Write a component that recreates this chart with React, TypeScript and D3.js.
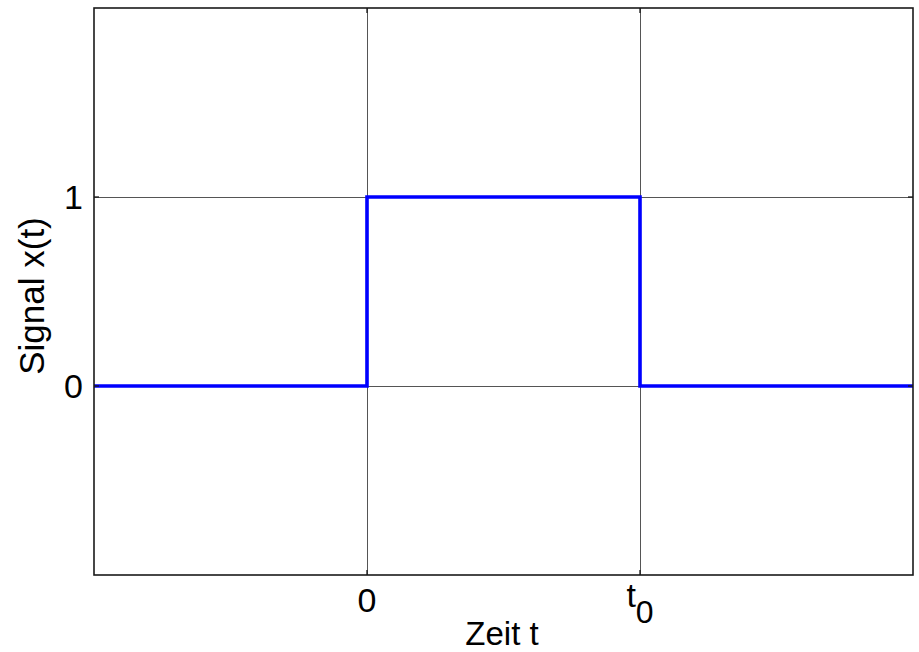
import React, { useEffect, useRef } from 'react';
import * as d3 from 'd3';

// step signal: rectangle pulse from 0 to t0
const signalT = [-1, 0, 0, 1, 1, 2];
const signalX = [0, 0, 1, 1, 0, 0];
const xTicks = [0, 1];
const xTickLabels = ['0', 't0'];
const yTicks = [0, 1];
const yTickLabels = ['0', '1'];

const W = 919;
const H = 652;

const App = () => {
  const ref = useRef<HTMLDivElement>(null);

  useEffect(() => {
    d3.select(ref.current).selectAll('*').remove();

    const margin = { left: 94, right: 6, top: 8, bottom: 77 };
    const font = 'Arial, "Liberation Sans", Helvetica, sans-serif';

    const svg = d3
      .select(ref.current)
      .append('svg')
      .attr('width', W)
      .attr('height', H)
      .style('position', 'absolute')
      .style('left', 0)
      .style('top', 0)
      .style('background', '#fff');

    const x = d3.scaleLinear().domain([-1, 2]).range([margin.left, W - margin.right]);
    const y = d3.scaleLinear().domain([-1, 2]).range([H - margin.bottom, margin.top]);

    const [x0, x1] = x.range();
    const [y0, y1] = y.range();

    // grid
    const grid = svg.append('g').attr('stroke', '#555').attr('stroke-width', 1).attr('shape-rendering', 'crispEdges');
    xTicks.forEach((t) => {
      grid.append('line').attr('x1', x(t)).attr('x2', x(t)).attr('y1', y1).attr('y2', y0);
    });
    yTicks.forEach((t) => {
      grid.append('line').attr('x1', x0).attr('x2', x1).attr('y1', y(t)).attr('y2', y(t));
    });

    // signal
    const line = d3
      .line<number>()
      .x((d, i) => x(signalT[i]))
      .y((d) => y(d));

    svg
      .append('path')
      .datum(signalX)
      .attr('d', line)
      .attr('fill', 'none')
      .attr('stroke', '#0000ff')
      .attr('stroke-width', 3.6);

    // box
    svg
      .append('rect')
      .attr('x', x0)
      .attr('y', y1)
      .attr('width', x1 - x0)
      .attr('height', y0 - y1)
      .attr('fill', 'none')
      .attr('stroke', '#1a1a1a')
      .attr('stroke-width', 1.6);

    // tick marks on all four sides
    const tickLen = 5;
    const ticks = svg.append('g').attr('stroke', '#1a1a1a').attr('stroke-width', 1.3);
    xTicks.forEach((t) => {
      ticks.append('line').attr('x1', x(t)).attr('x2', x(t)).attr('y1', y0).attr('y2', y0 - tickLen);
      ticks.append('line').attr('x1', x(t)).attr('x2', x(t)).attr('y1', y1).attr('y2', y1 + tickLen);
    });
    yTicks.forEach((t) => {
      ticks.append('line').attr('x1', x0).attr('x2', x0 + tickLen).attr('y1', y(t)).attr('y2', y(t));
      ticks.append('line').attr('x1', x1).attr('x2', x1 - tickLen).attr('y1', y(t)).attr('y2', y(t));
    });

    const fs = 34;

    // x tick labels
    xTicks.forEach((t, i) => {
      const label = xTickLabels[i];
      const txt = svg
        .append('text')
        .attr('x', x(t))
        .attr('y', label.length > 1 ? 607 : 612)
        .attr('text-anchor', 'middle')
        .attr('font-family', font)
        .attr('font-size', fs)
        .attr('fill', '#000');
      if (label.length > 1) {
        txt.append('tspan').text(label[0]);
        txt.append('tspan').attr('dy', 16).attr('font-size', 32).text(label.slice(1));
      } else {
        txt.text(label);
      }
    });

    // y tick labels
    yTicks.forEach((t, i) => {
      svg
        .append('text')
        .attr('x', 83)
        .attr('y', y(t) + 12)
        .attr('text-anchor', 'end')
        .attr('font-family', font)
        .attr('font-size', fs)
        .attr('fill', '#000')
        .text(yTickLabels[i]);
    });

    // axis titles
    svg
      .append('text')
      .attr('x', 502)
      .attr('y', 645)
      .attr('text-anchor', 'middle')
      .attr('font-family', font)
      .attr('font-size', 33)
      .attr('fill', '#000')
      .text('Zeit t');

    svg
      .append('text')
      .attr('transform', `translate(44, 296) rotate(-90)`)
      .attr('text-anchor', 'middle')
      .attr('font-family', font)
      .attr('font-size', 35)
      .attr('fill', '#000')
      .text('Signal x(t)');
  }, []);

  return <div ref={ref}></div>;
};

export default App;
